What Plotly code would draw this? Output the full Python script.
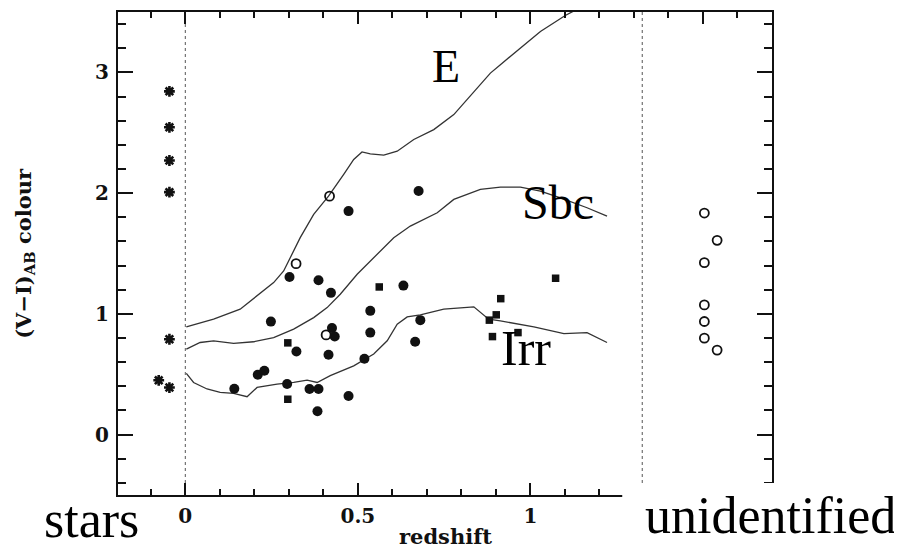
import plotly.graph_objects as go

# ---- data ----
E_z = [0.003, 0.082, 0.159, 0.208, 0.256, 0.285, 0.304, 0.333, 0.372, 0.415, 0.459, 0.488, 0.512,
       0.536, 0.575, 0.614, 0.662, 0.720, 0.778, 0.826, 0.884, 0.913, 0.971, 1.029, 1.101, 1.16]
E_col = [0.893, 0.956, 1.039, 1.149, 1.259, 1.355, 1.465, 1.631, 1.824, 1.975, 2.155, 2.279, 2.341,
         2.325, 2.314, 2.347, 2.444, 2.526, 2.650, 2.802, 2.994, 3.064, 3.201, 3.339, 3.471, 3.56]

Sbc_z = [0.003, 0.043, 0.082, 0.140, 0.198, 0.256, 0.314, 0.372, 0.411, 0.449, 0.498, 0.546, 0.604,
         0.652, 0.730, 0.778, 0.855, 0.913, 0.971, 1.029, 1.087, 1.164, 1.222]
Sbc_col = [0.708, 0.763, 0.777, 0.755, 0.769, 0.804, 0.874, 0.969, 1.052, 1.163, 1.328, 1.465, 1.631,
           1.727, 1.837, 1.948, 2.031, 2.050, 2.050, 2.017, 1.961, 1.879, 1.810]

Irr_z = [0.003, 0.024, 0.063, 0.101, 0.140, 0.179, 0.208, 0.266, 0.314, 0.353, 0.382, 0.420, 0.488,
         0.546, 0.585, 0.614, 0.643, 0.681, 0.749, 0.836, 0.879, 0.913, 1.010, 1.097, 1.164, 1.222]
Irr_col = [0.507, 0.432, 0.378, 0.350, 0.341, 0.314, 0.391, 0.419, 0.432, 0.452, 0.432, 0.488, 0.570,
           0.667, 0.777, 0.915, 0.975, 0.992, 1.039, 1.058, 0.956, 0.942, 0.893, 0.837, 0.845, 0.763]

gal_z = [0.302, 0.248, 0.210, 0.229, 0.142, 0.295, 0.322, 0.386, 0.422, 0.473, 0.676, 0.632,
         0.536, 0.681, 0.536, 0.666, 0.425, 0.433, 0.415, 0.519, 0.360, 0.386, 0.473, 0.383]
gal_col = [1.306, 0.936, 0.496, 0.529, 0.380, 0.419, 0.688, 1.279, 1.174, 1.851, 2.017, 1.234,
           1.025, 0.948, 0.845, 0.769, 0.882, 0.812, 0.661, 0.628, 0.378, 0.378, 0.320, 0.193]

sq_z = [0.297, 0.297, 0.562, 1.073, 0.914, 0.901, 0.881, 0.964, 0.890]
sq_col = [0.760, 0.293, 1.223, 1.295, 1.126, 0.992, 0.948, 0.845, 0.812]

open_z = [0.418, 0.321, 0.408]
open_col = [1.975, 1.416, 0.826]

star_x = [-0.046, -0.046, -0.046, -0.046, -0.046, -0.077, -0.046]
star_col = [2.843, 2.545, 2.270, 2.008, 0.790, 0.450, 0.390]

unid_x = [1.504, 1.541, 1.504, 1.504, 1.504, 1.504, 1.541]
unid_col = [1.835, 1.609, 1.424, 1.074, 0.937, 0.799, 0.700]

divider_x = [0.0, 1.324]
x_range = [-0.195, 1.70]
y_range = [-0.5, 3.5]
x_tickvals = [0, 0.5, 1]
x_ticktext = ["0", "0.5", "1"]
x_major_all = [0, 0.5, 1, 1.5]
y_tickvals = [0, 1, 2, 3]
y_ticktext = ["0", "1", "2", "3"]

INK = "#111111"
fig = go.Figure()

for xs, ys in [(E_z, E_col), (Sbc_z, Sbc_col), (Irr_z, Irr_col)]:
    fig.add_trace(go.Scatter(x=xs, y=ys, mode="lines", line=dict(color="#333", width=1.3),
                             showlegend=False, hoverinfo="skip"))

fig.add_trace(go.Scatter(x=gal_z, y=gal_col, mode="markers",
                         marker=dict(symbol="circle", size=10, color=INK), showlegend=False))
fig.add_trace(go.Scatter(x=sq_z, y=sq_col, mode="markers",
                         marker=dict(symbol="square", size=7.5, color=INK), showlegend=False))
fig.add_trace(go.Scatter(x=open_z, y=open_col, mode="markers",
                         marker=dict(symbol="circle-open", size=9, color=INK, line=dict(width=1.8)),
                         showlegend=False))
fig.add_trace(go.Scatter(x=star_x, y=star_col, mode="markers",
                         marker=dict(symbol="asterisk-open", size=9, color=INK, line=dict(width=2.6)),
                         showlegend=False))
fig.add_trace(go.Scatter(x=unid_x, y=unid_col, mode="markers",
                         marker=dict(symbol="circle-open", size=9, color=INK, line=dict(width=1.8)),
                         showlegend=False))
# invisible trace that carries the mirrored (top / right) tick axes
fig.add_trace(go.Scatter(x=[x_range[0]], y=[y_range[0]], xaxis="x2", yaxis="y2", mode="markers",
                         marker=dict(size=1, opacity=0), showlegend=False, hoverinfo="skip"))

for xv in divider_x:
    fig.add_shape(type="line", xref="x", yref="paper", x0=xv, x1=xv, y0=0, y1=1,
                  line=dict(color="#555", width=1, dash="dot"), layer="below")

# white box under the "unidentified" label (covers the axis corner)
fig.add_shape(type="rect", xref="paper", yref="paper", x0=0.771, x1=1.25, y0=-0.2, y1=0.025,
              fillcolor="white", line=dict(width=0), layer="above")

tickfont = dict(family="DejaVu Serif", size=20, color=INK, weight="bold")
xminor = dict(dtick=0.1, tick0=0, ticks="inside", ticklen=6, tickwidth=1.8, tickcolor=INK)
yminor = dict(dtick=0.2, tick0=0, ticks="inside", ticklen=8, tickwidth=1.8, tickcolor=INK)
fig.update_layout(
    xaxis=dict(range=x_range, tickvals=x_tickvals, ticktext=x_ticktext,
               ticks="inside", ticklen=12, tickwidth=2, tickcolor=INK, minor=xminor,
               showline=True, linecolor=INK, linewidth=2, mirror=True,
               showgrid=False, zeroline=False, tickfont=tickfont, ticklabelstandoff=2),
    yaxis=dict(range=y_range, tickvals=y_tickvals, ticktext=y_ticktext,
               ticks="inside", ticklen=15, tickwidth=2, tickcolor=INK, minor=yminor,
               showline=True, linecolor=INK, linewidth=2, mirror=True,
               showgrid=False, zeroline=False, tickfont=tickfont, ticklabelstandoff=3),
    xaxis2=dict(overlaying="x", side="top", anchor="y2", range=x_range, tickvals=x_major_all,
                ticks="inside", ticklen=12, tickwidth=2, tickcolor=INK, minor=xminor,
                showticklabels=False, showline=False, showgrid=False, zeroline=False),
    yaxis2=dict(overlaying="y", side="right", anchor="x2", range=y_range, tickvals=y_tickvals,
                ticks="inside", ticklen=15, tickwidth=2, tickcolor=INK, minor=yminor,
                showticklabels=False, showline=False, showgrid=False, zeroline=False),
)

annos = [
    dict(x=0.756, y=3.05, xref="x", yref="y", text="E", size=46, ya="middle"),
    dict(x=1.081, y=1.92, xref="x", yref="y", text="Sbc", size=48, ya="middle"),
    dict(x=0.986, y=0.72, xref="x", yref="y", text="Irr", size=50, ya="middle"),
    dict(x=-0.04, y=-0.113, xref="paper", yref="paper", text="stars", size=52, ya="bottom"),
    dict(x=0.998, y=-0.106, xref="paper", yref="paper", text="unidentified", size=52, ya="bottom"),
]
for a in annos:
    size = a.pop("size")
    ya = a.pop("ya")
    fig.add_annotation(**a, showarrow=False, xanchor="center", yanchor=ya,
                       font=dict(family="Liberation Serif", size=size, color="black"))

fig.add_annotation(x=0.5, y=-0.115, xref="paper", yref="paper", text="redshift",
                   showarrow=False, xanchor="center", yanchor="bottom",
                   font=dict(family="DejaVu Serif", size=21, color=INK, weight="bold"))
fig.add_annotation(x=-0.144, y=0.501, xref="paper", yref="paper",
                   text="(V\u2212I)<sub>AB</sub> colour", textangle=-90,
                   showarrow=False, xanchor="center", yanchor="middle",
                   font=dict(family="DejaVu Serif", size=21, color=INK, weight="bold"))

# page body has an 8px margin: shrink the figure so the plot area lands where the reference has it
fig.update_layout(width=894, height=543, margin=dict(l=110, r=130, t=2, b=56),
                  paper_bgcolor="white", plot_bgcolor="white", showlegend=False)

fig.write_html("out.html")
